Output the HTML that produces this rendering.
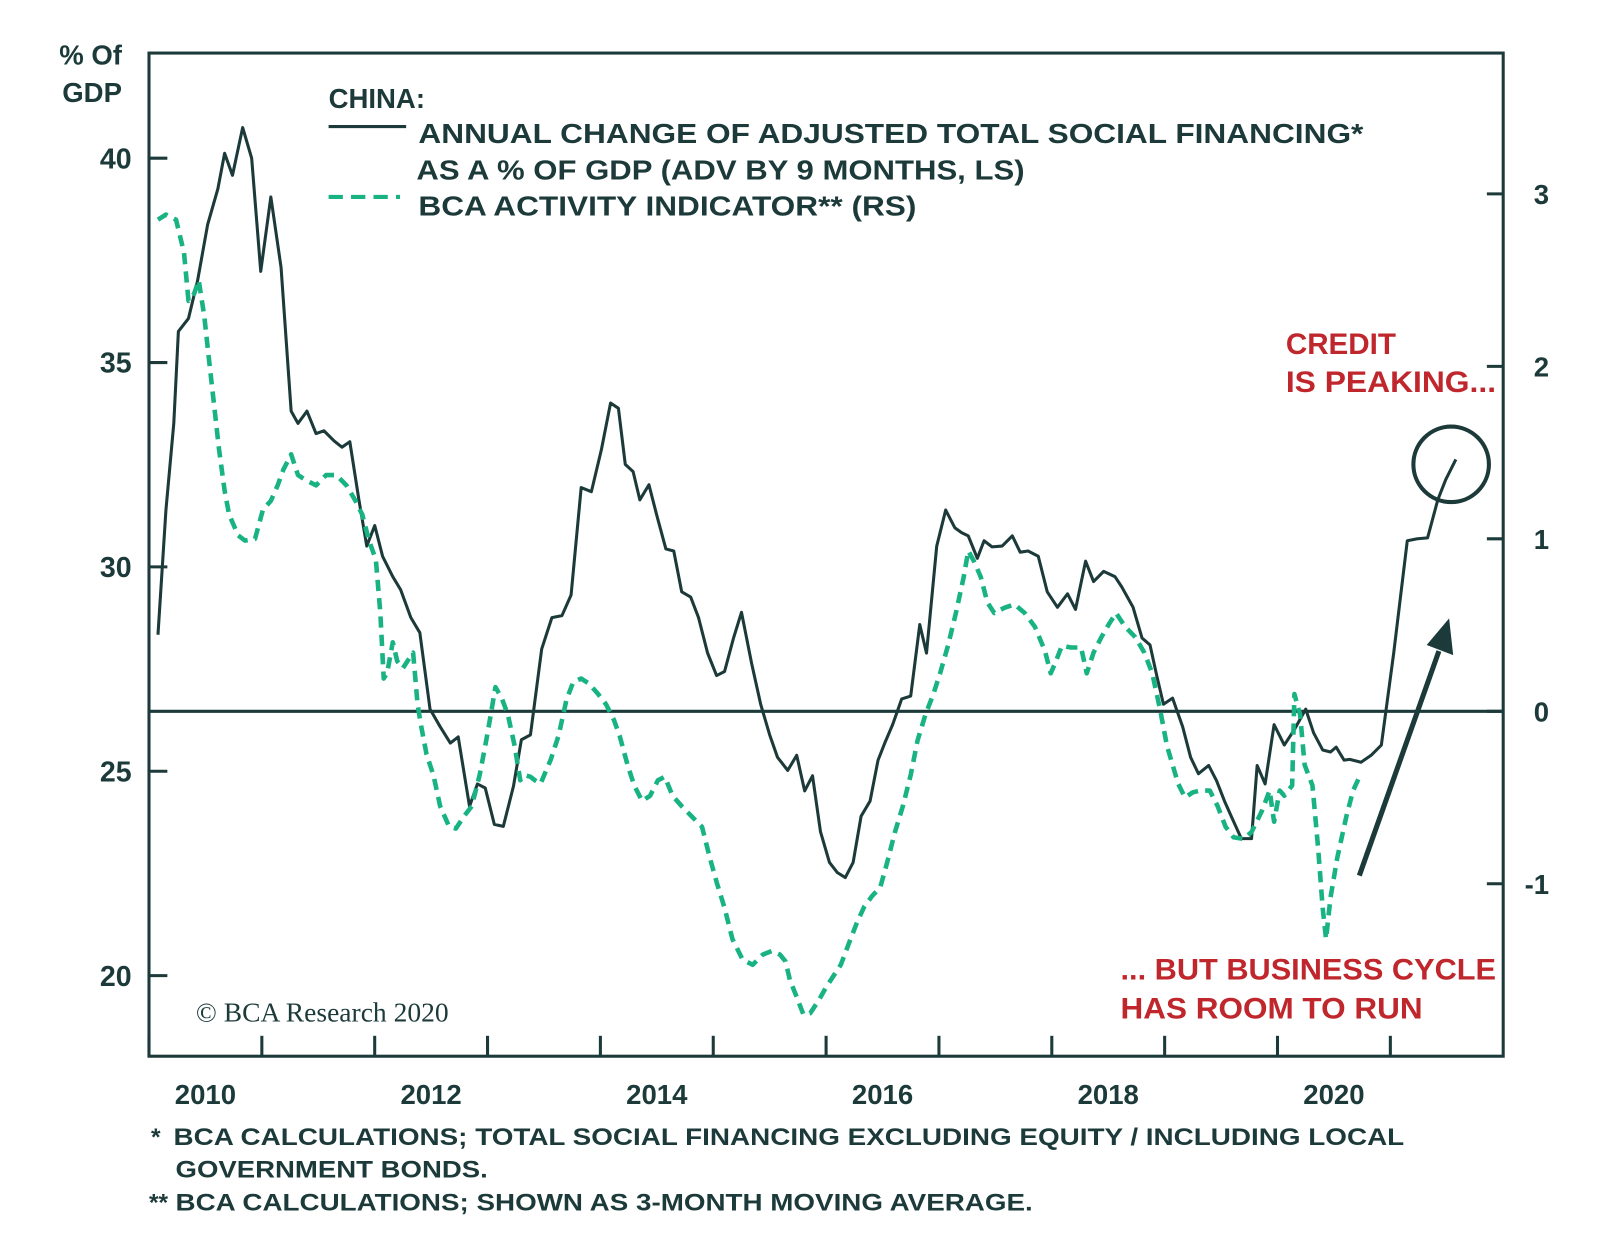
<!DOCTYPE html>
<html><head><meta charset="utf-8"><style>
html,body{margin:0;padding:0;background:#fff;}
svg{display:block;font-family:"Liberation Sans",sans-serif;}
.t{font-weight:bold;fill:#1d3a3a;}
.r{font-weight:bold;fill:#c0272d;}
</style></head><body>
<svg id="chart" width="1600" height="1258" viewBox="0 0 1600 1258">
<g transform="scale(1.0205)">
<g id="frame"></g>
<g id="lines"></g>
<text class="t" x="58" y="63" font-size="27">% Of</text>
<text class="t" x="61" y="100" font-size="27">GDP</text>
<text class="t" x="322" y="106" font-size="27">CHINA:</text>
<line x1="322" y1="124" x2="398" y2="124" stroke="#1d3a3a" stroke-width="3"/>
<text class="t" x="410" y="140" font-size="27" textLength="926" lengthAdjust="spacingAndGlyphs">ANNUAL CHANGE OF ADJUSTED TOTAL SOCIAL FINANCING*</text>
<text class="t" x="408" y="176" font-size="27" textLength="596" lengthAdjust="spacingAndGlyphs">AS A % OF GDP (ADV BY 9 MONTHS, LS)</text>
<line x1="322" y1="193" x2="392" y2="193" stroke="#19b383" stroke-width="4" stroke-dasharray="14,8"/>
<text class="t" x="410" y="211" font-size="27" textLength="488" lengthAdjust="spacingAndGlyphs">BCA ACTIVITY INDICATOR** (RS)</text>
<text class="r" x="1260" y="347" font-size="29">CREDIT</text>
<text class="r" x="1260" y="384" font-size="29" textLength="206" lengthAdjust="spacingAndGlyphs">IS PEAKING...</text>
<text class="r" x="1098" y="960" font-size="29" textLength="368" lengthAdjust="spacingAndGlyphs">... BUT BUSINESS CYCLE</text>
<text class="r" x="1098" y="998" font-size="29" textLength="296" lengthAdjust="spacingAndGlyphs">HAS ROOM TO RUN</text>
<circle cx="1422" cy="455" r="37" fill="none" stroke="#1d3a3a" stroke-width="4"/>
<line x1="1332" y1="858" x2="1410" y2="638" stroke="#1d3a3a" stroke-width="5"/>
<polygon points="1420,606 1424,642 1398,632" fill="#1d3a3a"/>
<text x="192" y="1001" font-size="27" fill="#1d3a3a" font-family="Liberation Serif,serif">© BCA Research 2020</text>
<text class="t" x="148" y="1122" font-size="24">*</text>
<text class="t" x="170" y="1122" font-size="24" textLength="1206" lengthAdjust="spacingAndGlyphs">BCA CALCULATIONS; TOTAL SOCIAL FINANCING EXCLUDING EQUITY / INCLUDING LOCAL</text>
<text class="t" x="172" y="1154" font-size="24" textLength="306" lengthAdjust="spacingAndGlyphs">GOVERNMENT BONDS.</text>
<text class="t" x="146" y="1186" font-size="24">**</text>
<text class="t" x="172" y="1186" font-size="24" textLength="840" lengthAdjust="spacingAndGlyphs">BCA CALCULATIONS; SHOWN AS 3-MONTH MOVING AVERAGE.</text>
</g>
</svg>
<script>
const leftTicks=[20,25,30,35,40];
const rightTicks=[-1,0,1,2,3];
const yearTicks=[2010,2011,2012,2013,2014,2015,2016,2017,2018,2019,2020,2021];
const yearLabels=[2010,2012,2014,2016,2018,2020];
const tsfDates=[2010.08,2010.15,2010.22,2010.26,2010.35,2010.43,2010.52,2010.61,2010.67,2010.74,2010.83,2010.91,2010.99,2011.08,2011.17,2011.26,2011.32,2011.40,2011.48,2011.55,2011.64,2011.71,2011.78,2011.86,2011.93,2012.00,2012.07,2012.16,2012.23,2012.32,2012.40,2012.49,2012.58,2012.67,2012.74,2012.84,2012.91,2012.98,2013.06,2013.14,2013.23,2013.30,2013.38,2013.48,2013.57,2013.66,2013.74,2013.83,2013.92,2014.01,2014.09,2014.16,2014.22,2014.29,2014.35,2014.43,2014.50,2014.58,2014.65,2014.72,2014.80,2014.87,2014.95,2015.03,2015.10,2015.18,2015.25,2015.34,2015.42,2015.50,2015.57,2015.66,2015.74,2015.81,2015.88,2015.95,2016.03,2016.10,2016.17,2016.24,2016.31,2016.39,2016.46,2016.52,2016.59,2016.67,2016.75,2016.83,2016.89,2016.98,2017.06,2017.14,2017.20,2017.26,2017.34,2017.40,2017.47,2017.56,2017.65,2017.72,2017.79,2017.88,2017.96,2018.05,2018.14,2018.21,2018.30,2018.37,2018.46,2018.56,2018.62,2018.72,2018.80,2018.87,2018.93,2018.99,2019.07,2019.16,2019.23,2019.30,2019.39,2019.46,2019.53,2019.59,2019.68,2019.77,2019.82,2019.89,2019.97,2020.06,2020.15,2020.25,2020.32,2020.40,2020.47,2020.52,2020.59,2020.64,2020.74,2020.83,2020.92,2021.03,2021.15,2021.24,2021.33,2021.42,2021.49,2021.58];
const tsfValues=[28.34,31.39,33.51,35.76,36.08,37.00,38.38,39.25,40.12,39.58,40.75,40.00,37.23,39.05,37.33,33.81,33.51,33.81,33.26,33.33,33.08,32.93,33.06,31.64,30.51,31.01,30.26,29.76,29.44,28.76,28.39,26.52,26.09,25.69,25.84,24.14,24.69,24.59,23.70,23.65,24.64,25.77,25.89,27.99,28.76,28.81,29.31,31.94,31.84,32.88,34.01,33.88,32.51,32.33,31.64,32.01,31.26,30.44,30.39,29.39,29.26,28.76,27.89,27.34,27.44,28.26,28.89,27.64,26.64,25.89,25.34,25.02,25.39,24.52,24.89,23.52,22.77,22.52,22.40,22.77,23.90,24.27,25.27,25.69,26.14,26.77,26.84,28.59,27.89,30.51,31.39,30.96,30.84,30.76,30.21,30.64,30.49,30.51,30.76,30.36,30.39,30.26,29.39,29.01,29.34,28.96,30.14,29.64,29.89,29.76,29.51,29.01,28.26,28.09,27.34,26.64,26.79,26.09,25.34,24.94,25.14,24.77,24.27,23.90,23.35,23.35,25.14,24.69,26.14,25.64,26.02,26.52,25.94,25.52,25.47,25.59,25.27,25.29,25.22,25.39,25.64,27.89,30.64,30.69,30.71,31.64,32.13,32.63];
const bcaDates=[2010.08,2010.15,2010.24,2010.31,2010.35,2010.40,2010.44,2010.49,2010.53,2010.58,2010.62,2010.67,2010.71,2010.79,2010.85,2010.94,2011.01,2011.08,2011.14,2011.19,2011.26,2011.32,2011.39,2011.48,2011.57,2011.66,2011.75,2011.83,2011.89,2011.95,2012.01,2012.05,2012.08,2012.11,2012.16,2012.20,2012.25,2012.29,2012.34,2012.38,2012.41,2012.46,2012.52,2012.58,2012.66,2012.72,2012.79,2012.86,2012.93,2012.98,2013.02,2013.07,2013.13,2013.18,2013.24,2013.29,2013.33,2013.38,2013.42,2013.47,2013.56,2013.63,2013.70,2013.76,2013.83,2013.90,2013.98,2014.05,2014.12,2014.17,2014.24,2014.30,2014.37,2014.44,2014.51,2014.57,2014.64,2014.72,2014.81,2014.90,2014.97,2015.03,2015.10,2015.17,2015.26,2015.35,2015.44,2015.52,2015.59,2015.64,2015.68,2015.73,2015.80,2015.86,2015.94,2016.00,2016.07,2016.13,2016.20,2016.27,2016.34,2016.41,2016.48,2016.54,2016.61,2016.68,2016.75,2016.81,2016.88,2016.95,2017.01,2017.08,2017.15,2017.22,2017.26,2017.31,2017.37,2017.43,2017.49,2017.58,2017.67,2017.76,2017.85,2017.94,2017.99,2018.03,2018.09,2018.17,2018.26,2018.31,2018.37,2018.44,2018.51,2018.57,2018.65,2018.74,2018.82,2018.89,2018.96,2019.02,2019.12,2019.18,2019.25,2019.32,2019.40,2019.47,2019.54,2019.61,2019.70,2019.77,2019.86,2019.93,2019.97,2020.02,2020.06,2020.13,2020.15,2020.20,2020.24,2020.31,2020.36,2020.40,2020.43,2020.47,2020.53,2020.61,2020.67,2020.74];
const bcaValues=[2.85,2.88,2.85,2.66,2.38,2.42,2.50,2.29,2.05,1.76,1.52,1.28,1.14,1.02,0.99,1.00,1.17,1.22,1.31,1.40,1.49,1.37,1.34,1.31,1.37,1.37,1.31,1.22,1.14,0.99,0.88,0.57,0.19,0.22,0.40,0.29,0.25,0.29,0.34,0.04,-0.08,-0.25,-0.37,-0.55,-0.67,-0.68,-0.61,-0.55,-0.37,-0.20,-0.05,0.14,0.07,-0.02,-0.20,-0.40,-0.37,-0.38,-0.40,-0.42,-0.28,-0.14,0.07,0.17,0.19,0.16,0.10,0.04,-0.05,-0.14,-0.31,-0.43,-0.52,-0.49,-0.40,-0.38,-0.49,-0.55,-0.61,-0.67,-0.85,-0.99,-1.14,-1.32,-1.44,-1.47,-1.41,-1.39,-1.41,-1.45,-1.56,-1.64,-1.76,-1.75,-1.67,-1.60,-1.53,-1.47,-1.35,-1.23,-1.13,-1.07,-1.02,-0.88,-0.70,-0.55,-0.37,-0.17,-0.02,0.10,0.22,0.38,0.57,0.78,0.93,0.87,0.78,0.63,0.57,0.60,0.62,0.57,0.49,0.35,0.22,0.28,0.38,0.37,0.37,0.22,0.34,0.43,0.51,0.57,0.49,0.43,0.34,0.22,0.01,-0.20,-0.42,-0.50,-0.47,-0.46,-0.46,-0.55,-0.67,-0.73,-0.74,-0.70,-0.58,-0.46,-0.64,-0.46,-0.49,-0.43,0.10,-0.02,-0.31,-0.43,-0.79,-1.14,-1.32,-1.08,-0.85,-0.61,-0.46,-0.36];

const NS='http://www.w3.org/2000/svg';
const L=146,R=1473,T=52,B=1035;
const x=t=>L+(t-2010)*(R-L)/12;
const yL=v=>155+(40-v)*(956-155)/20;
const yR=v=>697-v*169;
const frame=document.getElementById('frame');
const lines=document.getElementById('lines');
function mk(tag,parent,attrs){const e=document.createElementNS(NS,tag);for(const k in attrs)e.setAttribute(k,attrs[k]);parent.appendChild(e);return e;}

let e=mk('rect',frame,{x:L,y:T,width:R-L,height:B-T,fill:'none',stroke:'#1d3a3a','stroke-width':3});


e=mk('line',frame,{x1:L,x2:R,y1:yR(0),y2:yR(0),stroke:'#1d3a3a','stroke-width':3});


leftTicks.forEach(v=>{
  let t=mk('line',frame,{x1:L,x2:L+18,y1:yL(v),y2:yL(v),stroke:'#1d3a3a','stroke-width':3});
  
  
  let tx=mk('text',frame,{x:129,y:yL(v)+10,'text-anchor':'end','font-size':28,class:'t'});
  tx.textContent=v;
  
  
});
rightTicks.forEach(v=>{
  let t=mk('line',frame,{x1:R-16,x2:R,y1:yR(v),y2:yR(v),stroke:'#1d3a3a','stroke-width':3});
  
  
  let tx=mk('text',frame,{x:1518,y:yR(v)+10,'text-anchor':'end','font-size':27,class:'t'});
  tx.textContent=v;
  
  
});
yearTicks.forEach(yr=>{
  let t=mk('line',frame,{x1:x(yr),x2:x(yr),y1:B-20,y2:B,stroke:'#1d3a3a','stroke-width':3});
  
  
});
yearLabels.forEach(yr=>{
  let tx=mk('text',frame,{x:x(yr+0.5),y:1082,'text-anchor':'middle','font-size':27,class:'t'});
  tx.textContent=yr;
  
  
});
let d1=tsfDates.map((t,i)=>(i?'L':'M')+x(t).toFixed(1)+','+yL(tsfValues[i]).toFixed(1)).join('');
e=mk('path',lines,{d:d1,fill:'none',stroke:'#1d3a3a','stroke-width':3,'stroke-linejoin':'round'});


let d2=bcaDates.map((t,i)=>(i?'L':'M')+x(t).toFixed(1)+','+yR(bcaValues[i]).toFixed(1)).join('');
e=mk('path',lines,{d:d2,fill:'none',stroke:'#19b383','stroke-width':4.5,'stroke-dasharray':'11,7','stroke-linejoin':'round'});


</script>
</body></html>
